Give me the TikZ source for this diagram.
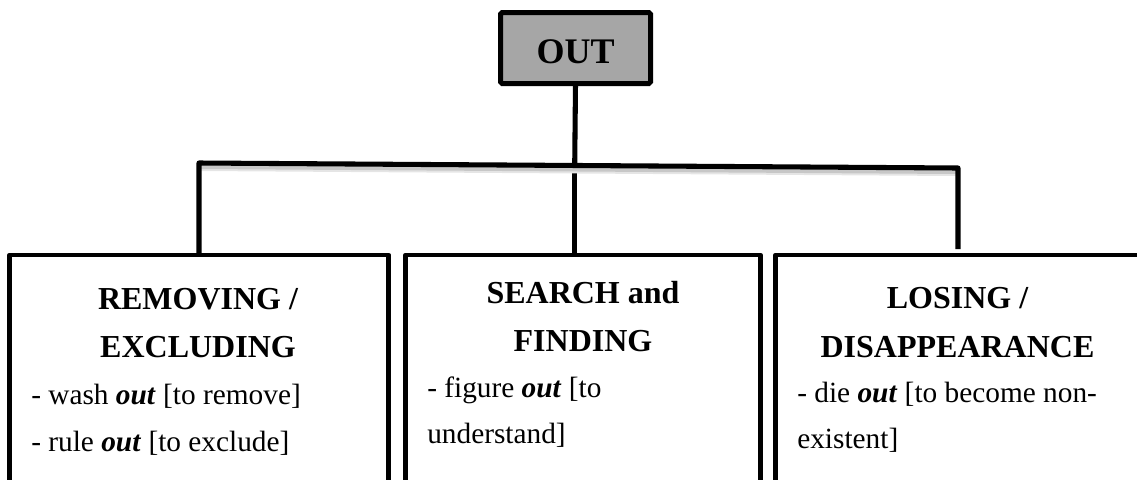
\documentclass[tikz,border=0pt]{standalone}
\usepackage{fontspec}
\setmainfont{Liberation Serif}
\usetikzlibrary{calc}
\definecolor{rootgray}{HTML}{A6A6A6}
\begin{document}
\begin{tikzpicture}[x=0.75pt,y=-0.75pt,
  frame/.style={line width=3.5pt, line join=round},
  wire/.style={line width=3.8pt},
  haze/.style={line width=3pt, draw=black!#1},
  panel/.style={inner sep=0pt, outer sep=0pt, draw=none, minimum height=187.5pt},
  head/.style={font=\fontsize{24}{28}\selectfont\bfseries, anchor=base, inner sep=0pt},
  body/.style={font=\fontsize{22}{26}\selectfont, anchor=base west, inner sep=0pt},
  root/.style={draw=black, fill=rootgray, line width=3.75pt, rounded corners=1.2pt,
    minimum width=112.5pt, minimum height=53.25pt, inner sep=0pt, outer sep=0pt,
    text height=22.5pt, text depth=0pt, font=\fontsize{27}{30}\selectfont\bfseries}
]
\useasboundingbox (0,0) rectangle (1137,479);
\clip (0,0) rectangle (1137,479);

% top concept
\node[root] (out) at (575.5,48) {OUT};

% three category panels (open at the bottom)
\node[panel, minimum width=284.4pt] (b1) at (199.1,380) {};
\node[panel, minimum width=266.25pt] (b2) at (583,380) {};
\node[panel, minimum width=272.4pt] (b3) at (957.4,380) {};
\foreach \b in {b1,b2,b3}
  \draw[frame] (\b.south west) -- (\b.north west) -- (\b.north east) -- (\b.south east);

% branching bus
\coordinate (busL) at (199,163);
\coordinate (busR) at (958,168);
\coordinate (busM) at ($(busL)!0.495!(busR)$);
\coordinate (tipR) at (958,249);

\draw[wire] (busM) -- (busM |- b2.north);
% soft shadow under the bus
\draw[haze=10] ($(busL)+(2,6)$) -- ($(busR)+(-2,6)$);
\draw[haze=22] ($(busL)+(2,4)$) -- ($(busR)+(-2,4)$);
\draw[wire] (out.south) -- (busM);
\draw[wire, line join=round] (busL |- b1.north) -- (busL) -- (busR) -- (tipR);

% panel 1
\node[head] (h1a) at (198,309) {REMOVING /};
\node[head] (h1b) at (198,357) {EXCLUDING};
\node[body] (t1a) at (31,404) {- wash \textbf{\textit{out}} [to remove]};
\node[body] (t1b) at (31,451) {- rule \textbf{\textit{out}} [to exclude]};

% panel 2
\node[head] (h2a) at (583,303) {SEARCH and};
\node[head] (h2b) at (583,351) {FINDING};
\node[body] (t2a) at (427,397) {- figure \textbf{\textit{out}} [to};
\node[body] (t2b) at (427,443) {understand]};

% panel 3
\node[head] (h3a) at (957.5,308) {LOSING /};
\node[head] (h3b) at (957.5,357) {DISAPPEARANCE};
\node[body] (t3a) at (797,402) {- die \textbf{\textit{out}} [to become non-};
\node[body] (t3b) at (797,448) {existent]};
\end{tikzpicture}
\end{document}
